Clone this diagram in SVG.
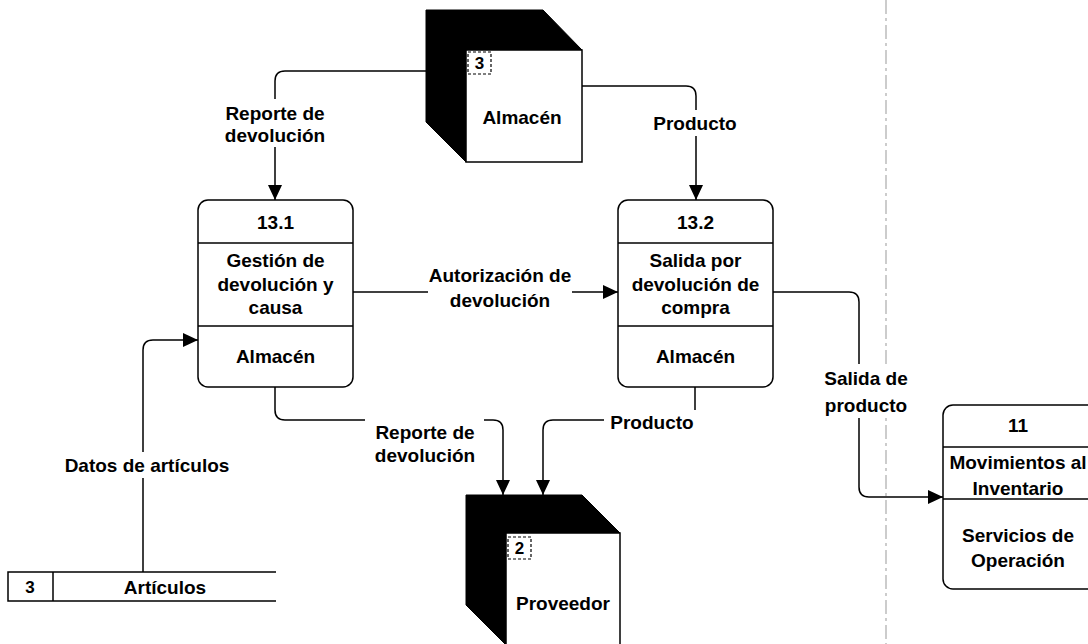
<svg xmlns="http://www.w3.org/2000/svg" width="1088" height="644" viewBox="0 0 1088 644">
<style>
  text { font-family: "Liberation Sans", Arial, sans-serif; font-size: 19px; font-weight: bold; fill: #000; text-anchor: middle; }
  .box { fill: #fff; stroke: #000; stroke-width: 1.5; }
  .div { stroke: #000; stroke-width: 1.5; }
  .conn { fill: none; stroke: #000; stroke-width: 1.5; }
  .bg { fill: #fff; stroke: none; }
  .blk { fill: #000; stroke: #000; stroke-width: 1; }
  .lbl { fill: #fff; stroke: #000; stroke-width: 1.2; stroke-dasharray: 3 2; }
  .small { font-size: 17px; }
</style>
<defs>
  <marker id="arr" markerUnits="userSpaceOnUse" markerWidth="16" markerHeight="16" viewBox="0 0 16 16" refX="15" refY="8" orient="auto">
    <path d="M0,1 L15,8 L0,15 Z" fill="#000"/>
  </marker>
</defs>
<rect width="1088" height="644" fill="#fff"/>

<line x1="886" y1="0" x2="886" y2="644" stroke="#999" stroke-width="1" stroke-dasharray="14 4 3 4"/>

<g id="connectors">
  <path class="conn" d="M426,71 H285 Q275,71 275,81 V200" marker-end="url(#arr)"/>
  <path class="conn" d="M582,86 H686 Q696,86 696,96 V200" marker-end="url(#arr)"/>
  <path class="conn" d="M353,292 H618" marker-end="url(#arr)"/>
  <path class="conn" d="M275,387 V410 Q275,420 285,420 H493 Q503,420 503,430 V495" marker-end="url(#arr)"/>
  <path class="conn" d="M695,387 V420 H553 Q543,420 543,430 V495" marker-end="url(#arr)"/>
  <path class="conn" d="M773,292 H849 Q859,292 859,302 V487 Q859,497 869,497 H943" marker-end="url(#arr)"/>
  <path class="conn" d="M143,572 V350 Q143,340 153,340 H198" marker-end="url(#arr)"/>

  <rect class="bg" x="218" y="99" width="114" height="48"/>
  <text x="275" y="120">Reporte de</text>
  <text x="275" y="142">devolución</text>

  <rect class="bg" x="648" y="110" width="94" height="26"/>
  <text x="695" y="130">Producto</text>

  <rect class="bg" x="428" y="261" width="144" height="50"/>
  <text x="500" y="282">Autorización de</text>
  <text x="500" y="307">devolución</text>

  <rect class="bg" x="365" y="414" width="119" height="52"/>
  <text x="425" y="439">Reporte de</text>
  <text x="425" y="462">devolución</text>

  <rect class="bg" x="604" y="410" width="96" height="24"/>
  <text x="652" y="429">Producto</text>

  <rect class="bg" x="818" y="364" width="96" height="54"/>
  <text x="866" y="385">Salida de</text>
  <text x="866" y="412">producto</text>

  <rect class="bg" x="60" y="452" width="176" height="26"/>
  <text x="147" y="472">Datos de artículos</text>
</g>

<g id="store-almacen">
  <path class="blk" d="M426,10 H543 L582,50 H466 V162 L426,122 Z"/>
  <rect class="box" x="466" y="50" width="116" height="112"/>
  <rect class="lbl" x="468" y="52" width="23" height="22"/>
  <text class="small" x="479.5" y="69">3</text>
  <text x="522" y="124">Almacén</text>
</g>

<g id="store-proveedor">
  <path class="blk" d="M466,495 H582 L620,533 H506 V645 L466,605 Z"/>
  <rect class="box" x="506" y="533" width="114" height="130"/>
  <rect class="lbl" x="508" y="537" width="23" height="22"/>
  <text class="small" x="519.5" y="554">2</text>
  <text x="563" y="610">Proveedor</text>
</g>

<g id="store-articulos">
  <path class="conn" d="M276,572 H8 V601 H276"/>
  <line class="div" x1="53" y1="572" x2="53" y2="601"/>
  <text class="small" x="30" y="593">3</text>
  <text x="165" y="594">Artículos</text>
</g>

<g id="proc-13-1">
  <rect class="box" x="198" y="200" width="155" height="187" rx="10" ry="10"/>
  <line class="div" x1="198" y1="243" x2="353" y2="243"/>
  <line class="div" x1="198" y1="326" x2="353" y2="326"/>
  <text x="275.5" y="229">13.1</text>
  <text x="275.5" y="267">Gestión de</text>
  <text x="275.5" y="291">devolución y</text>
  <text x="275.5" y="314">causa</text>
  <text x="275.5" y="363">Almacén</text>
</g>

<g id="proc-13-2">
  <rect class="box" x="618" y="200" width="155" height="187" rx="10" ry="10"/>
  <line class="div" x1="618" y1="243" x2="773" y2="243"/>
  <line class="div" x1="618" y1="326" x2="773" y2="326"/>
  <text x="695.5" y="229">13.2</text>
  <text x="695.5" y="267">Salida por</text>
  <text x="695.5" y="291">devolución de</text>
  <text x="695.5" y="314">compra</text>
  <text x="695.5" y="363">Almacén</text>
</g>

<g id="proc-11">
  <rect class="box" x="943" y="405" width="155" height="184" rx="10" ry="10"/>
  <line class="div" x1="943" y1="447" x2="1098" y2="447"/>
  <line class="div" x1="943" y1="499" x2="1098" y2="499"/>
  <text x="1018" y="432">11</text>
  <text x="1018" y="469">Movimientos al</text>
  <text x="1018" y="495">Inventario</text>
  <text x="1018" y="542">Servicios de</text>
  <text x="1018" y="567">Operación</text>
</g>
</svg>
